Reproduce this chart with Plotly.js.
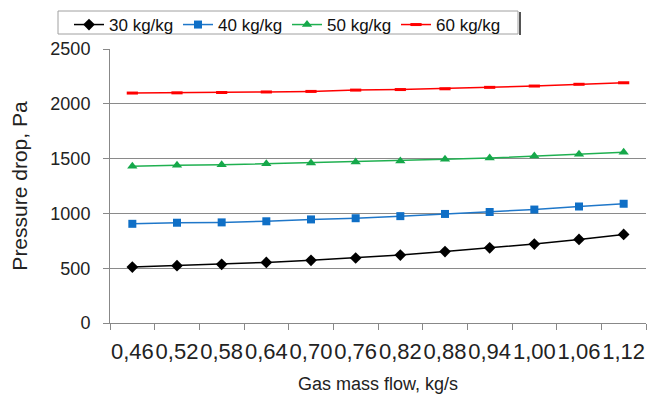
<!DOCTYPE html>
<html>
<head>
<meta charset="utf-8">
<script src="https://cdn.plot.ly/plotly-3.0.1.min.js"></script>
<style>html,body{margin:0;padding:0;background:#fff;}#chart{width:659px;height:396px;}</style>
</head>
<body>
<div id="chart"></div>
<script>
const categories = ["0,46","0,52","0,58","0,64","0,70","0,76","0,82","0,88","0,94","1,00","1,06","1,12"];
const series30 = [510, 523, 535, 553, 572, 593, 620, 652, 686, 720, 763, 808];
const series40 = [905, 915, 918, 928, 945, 956, 975, 995, 1013, 1035, 1063, 1088];
const series50 = [1430, 1440, 1443, 1452, 1460, 1470, 1478, 1493, 1505, 1523, 1540, 1557];
const series60 = [2098, 2100, 2103, 2108, 2113, 2125, 2130, 2137, 2150, 2162, 2178, 2192];
const seriesNames = ["30 kg/kg", "40 kg/kg", "50 kg/kg", "60 kg/kg"];
const yTicks = [0, 500, 1000, 1500, 2000, 2500];

const font = "Liberation Sans, Arial, sans-serif";
const traces = [
  {x: categories, y: series30, name: seriesNames[0], mode: "lines+markers",
   line: {color: "#000000", width: 1.5}, marker: {symbol: "diamond", size: 9, color: "#000000"}},
  {x: categories, y: series40, name: seriesNames[1], mode: "lines+markers",
   line: {color: "#1f77c9", width: 1.5}, marker: {symbol: "square", size: 8, color: "#0f6fc6"}},
  {x: categories, y: series50, name: seriesNames[2], mode: "lines+markers",
   line: {color: "#1fb050", width: 1.5}, marker: {symbol: "triangle-up", size: 9, color: "#15a84a"}},
  {x: categories, y: series60, name: seriesNames[3], mode: "lines+markers",
   line: {color: "#ff0000", width: 1.5}, marker: {symbol: "line-ew", size: 8, color: "#ff0000", line: {color: "#ff0000", width: 3}}}
];

// pixel helpers for the decorative legend frame (paper coords)
const L = 110, W = 536, T = 49, H = 274;
const px = v => (v - L) / W;
const py = v => 1 + (T - v) / H;

const layout = {
  width: 659, height: 396,
  margin: {l: 110, r: 13, t: 49, b: 73, pad: 0, autoexpand: false},
  paper_bgcolor: "#ffffff", plot_bgcolor: "#ffffff",
  font: {family: font, color: "#222222"},
  showlegend: true,
  legend: {
    orientation: "h", x: px(69), xanchor: "left", y: py(7), yanchor: "top",
    borderwidth: 0, bgcolor: "rgba(0,0,0,0)",
    font: {family: font, size: 17, color: "#111111"},
    entrywidth: 64, entrywidthmode: "pixels", tracegroupgap: 0
  },
  xaxis: {
    type: "category", tickson: "boundaries", ticks: "outside", ticklen: 6, tickcolor: "#888888",
    showline: true, linecolor: "#888888", linewidth: 1, showgrid: false, zeroline: false,
    tickangle: 0, tickfont: {family: font, size: 22, color: "#222222"}, ticklabelstandoff: 9,
    range: [-0.5, 11.5],
    title: {text: "Gas mass flow, kg/s", font: {family: font, size: 18, color: "#222222"}, standoff: 13}
  },
  yaxis: {
    range: [0, 2500], tickvals: yTicks, ticktext: yTicks.map(String),
    ticks: "outside", ticklen: 6, tickcolor: "#888888",
    showline: true, linecolor: "#888888", linewidth: 1,
    showgrid: true, gridcolor: "#8a8a8a", gridwidth: 1, zeroline: false,
    tickfont: {family: font, size: 18, color: "#222222"}, ticklabelstandoff: 9,
    title: {text: "Pressure drop, Pa", font: {family: font, size: 21, color: "#222222"}, standoff: 17}
  },
  shapes: [
    {type: "rect", xref: "paper", yref: "paper", x0: px(58), x1: px(518), y0: py(34), y1: py(11),
     line: {color: "#a0a0a0", width: 1}, fillcolor: "rgba(0,0,0,0)", layer: "below"},
    {type: "line", xref: "paper", yref: "paper", x0: px(520), x1: px(520), y0: py(35), y1: py(12),
     line: {color: "#555555", width: 2}}
  ]
};

Plotly.newPlot("chart", traces, layout, {displayModeBar: false, staticPlot: true});
</script>
</body>
</html>
